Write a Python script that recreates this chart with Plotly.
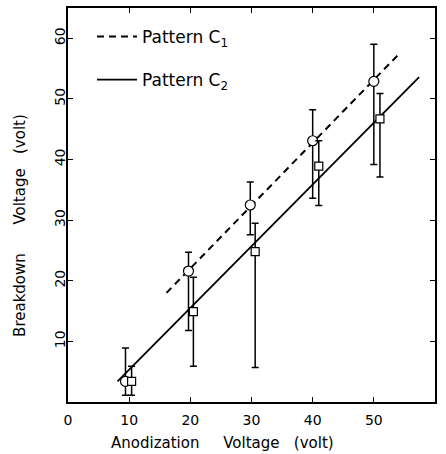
import plotly.graph_objects as go

# Pattern C1 (circles)
c1_x = [9.4, 19.7, 29.8, 40.0, 50.0]
c1_y = [3.4, 21.6, 32.5, 43.1, 52.9]
c1_err_plus = [5.5, 3.1, 3.8, 5.1, 6.1]
c1_err_minus = [2.3, 9.8, 4.9, 9.5, 13.7]

# Pattern C2 (squares)
c2_x = [10.4, 20.5, 30.6, 41.0, 51.0]
c2_y = [3.4, 14.9, 24.8, 38.9, 46.7]
c2_err_plus = [2.5, 5.7, 4.7, 4.2, 4.2]
c2_err_minus = [2.3, 9.0, 19.1, 6.5, 9.6]

# Fitted lines
c1_fit_x = [16.1, 54.1]
c1_fit_y = [18.0, 57.4]
c2_fit_x = [8.1, 57.4]
c2_fit_y = [3.4, 53.6]

x_ticks = [0, 10, 20, 30, 40, 50]
y_ticks = [10, 20, 30, 40, 50, 60]

FONT = "DejaVu Sans"
BLACK = "black"

fig = go.Figure()

fig.add_trace(go.Scatter(
    x=c1_fit_x, y=c1_fit_y, mode="lines",
    line=dict(color=BLACK, width=2, dash="7px,5px"),
    name="Pattern C<sub>1</sub>", legendgroup="g1", showlegend=True,
))
fig.add_trace(go.Scatter(
    x=c2_fit_x, y=c2_fit_y, mode="lines",
    line=dict(color=BLACK, width=1.8),
    name="Pattern C<sub>2</sub>", legendgroup="g2", showlegend=True,
))

fig.add_trace(go.Scatter(
    x=c1_x, y=c1_y, mode="markers",
    marker=dict(symbol="circle", size=10, color="white",
                line=dict(color=BLACK, width=1.2)),
    error_y=dict(type="data", symmetric=False, array=c1_err_plus,
                 arrayminus=c1_err_minus, color=BLACK, thickness=1.5, width=3.5),
    showlegend=False,
))
fig.add_trace(go.Scatter(
    x=c2_x, y=c2_y, mode="markers",
    marker=dict(symbol="square", size=8, color="white",
                line=dict(color=BLACK, width=1.2)),
    error_y=dict(type="data", symmetric=False, array=c2_err_plus,
                 arrayminus=c2_err_minus, color=BLACK, thickness=1.5, width=3.5),
    showlegend=False,
))

axis_common = dict(
    showline=True, linecolor=BLACK, linewidth=1.5, mirror="allticks",
    ticks="inside", ticklen=5, tickwidth=1.2, tickcolor=BLACK,
    showgrid=False, zeroline=False,
    tickfont=dict(family=FONT, size=14, color=BLACK),
)

fig.update_xaxes(range=[0, 60], tickvals=x_ticks, ticktext=[str(v) for v in x_ticks],
                 ticklabelstandoff=4, **axis_common)
fig.update_yaxes(range=[0, 65], tickvals=y_ticks, ticktext=[str(v) for v in y_ticks],
                 tickangle=-90, ticklabelstandoff=-4, **axis_common)

fig.add_annotation(
    text="Anodization&nbsp;&nbsp;&nbsp;&nbsp;&nbsp;Voltage&nbsp;&nbsp;&nbsp;(volt)",
    xref="paper", yref="paper", x=(222 - 68) / 367, y=(402 - 443) / 396,
    xanchor="center", yanchor="middle", showarrow=False,
    font=dict(family=FONT, size=15, color=BLACK),
)
fig.add_annotation(
    text="Breakdown&nbsp;&nbsp;&nbsp;&nbsp;&nbsp;&nbsp;Voltage&nbsp;&nbsp;&nbsp;(volt)",
    xref="paper", yref="paper", x=(20 - 68) / 367, y=(402 - 225) / 396,
    xanchor="center", yanchor="middle", showarrow=False, textangle=-90,
    font=dict(family=FONT, size=15, color=BLACK),
)

fig.update_layout(
    width=446, height=454,
    margin=dict(l=68, r=11, t=6, b=52),
    paper_bgcolor="white", plot_bgcolor="white",
    font=dict(family=FONT, size=15, color=BLACK),
    legend=dict(x=(92 - 68) / 367, y=(402 - 17) / 396, xanchor="left", yanchor="top",
                bgcolor="rgba(0,0,0,0)", traceorder="grouped", tracegroupgap=18,
                itemwidth=40,
                font=dict(family=FONT, size=17, color=BLACK)),
)

fig.write_html("out.html")
